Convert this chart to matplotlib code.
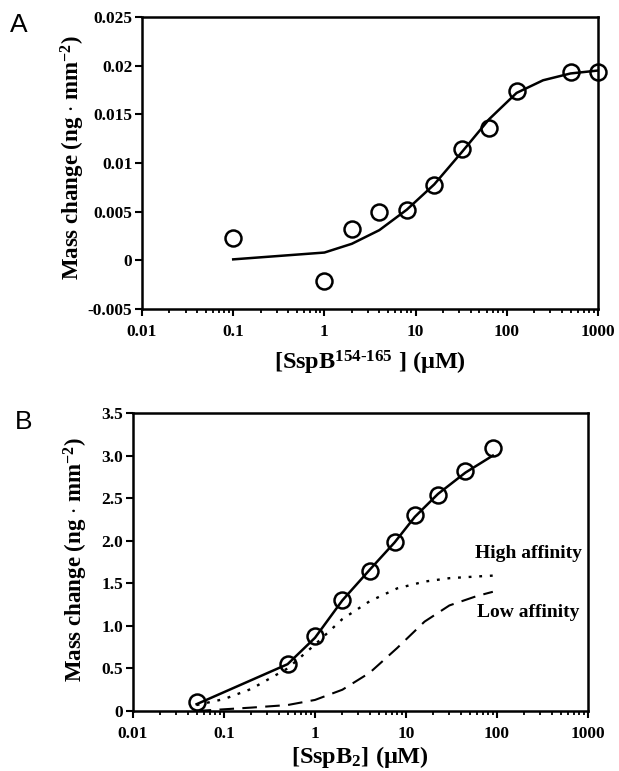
import numpy as np
import matplotlib
matplotlib.use("Agg")
import matplotlib.pyplot as plt
from matplotlib.ticker import LogLocator, NullFormatter

plt.rcParams["font.family"] = "Liberation Serif"
plt.rcParams["font.weight"] = "bold"
plt.rcParams["mathtext.fontset"] = "custom"
plt.rcParams["mathtext.rm"] = "Liberation Serif:bold"
plt.rcParams["mathtext.it"] = "Liberation Serif:bold"
plt.rcParams["mathtext.bf"] = "Liberation Serif:bold"

# panel A: peptide binding
conc_a = [0.1, 1, 2, 4, 8, 16, 32, 64, 128, 500, 1000]
mass_a = [0.0023, -0.0021, 0.0032, 0.0050, 0.0052, 0.0077, 0.0114, 0.0136, 0.0174, 0.0194, 0.0194]
fit_x_a = [0.1, 1, 2, 4, 8, 16, 32, 64, 128, 250, 500, 1000]
fit_y_a = [0.0001, 0.0008, 0.0017, 0.0031, 0.0052, 0.0078, 0.0111, 0.0145, 0.0172, 0.0185, 0.0192, 0.0195]

# panel B: SspB2 binding
conc_b = [0.05, 0.5, 1, 2, 4, 7.5, 12.5, 22.5, 45, 90]
mass_b = [0.10, 0.55, 0.88, 1.30, 1.65, 1.98, 2.30, 2.54, 2.82, 3.09]
fit_y_b = [0.08, 0.55, 0.86, 1.30, 1.66, 1.98, 2.28, 2.55, 2.80, 3.00]
curve_x = [0.05, 0.1, 0.2, 0.5, 1, 2, 4, 8, 16, 30, 60, 90]
high_aff = [0.07, 0.14, 0.26, 0.50, 0.78, 1.08, 1.29, 1.44, 1.52, 1.56, 1.58, 1.59]
low_aff = [0.00, 0.02, 0.04, 0.07, 0.13, 0.25, 0.45, 0.74, 1.05, 1.24, 1.35, 1.40]

xticks = [0.01, 0.1, 1, 10, 100, 1000]
xtick_labels = ["0.01", "0.1", "1", "10", "100", "1000"]
yticks_a = [-0.005, 0, 0.005, 0.01, 0.015, 0.02, 0.025]
ytick_labels_a = ["-0.005", "0", "0.005", "0.01", "0.015", "0.02", "0.025"]
yticks_b = [0, 0.5, 1.0, 1.5, 2.0, 2.5, 3.0, 3.5]
ytick_labels_b = ["0", "0.5", "1.0", "1.5", "2.0", "2.5", "3.0", "3.5"]

W, H = 619, 771
fig = plt.figure(figsize=(W / 100, H / 100), dpi=100)
# axes boxes in pixels (left, top, right, bottom)
axA = fig.add_axes([142 / W, 1 - 309 / H, (598 - 142) / W, (309 - 17) / H])
axB = fig.add_axes([133 / W, 1 - 711 / H, (588 - 133) / W, (711 - 413) / H])

TICK_FS = 12.5
LABEL_FS = 16.5


def style_axis(ax, yticks, ylabels):
    ax.set_xscale("log")
    ax.set_xlim(0.01, 1000)
    for s in ax.spines.values():
        s.set_linewidth(1.8)
    ax.xaxis.set_minor_locator(LogLocator(base=10, subs=np.arange(2, 10), numticks=10))
    ax.xaxis.set_minor_formatter(NullFormatter())
    ax.set_xticks(xticks)
    ax.set_xticklabels(xtick_labels, fontsize=TICK_FS, fontweight="bold")
    ax.set_yticks(yticks)
    ax.set_yticklabels(ylabels, fontsize=TICK_FS, fontweight="bold")
    ax.tick_params(axis="x", which="major", direction="out", length=5, width=1.5, pad=6)
    ax.tick_params(axis="y", which="major", direction="out", length=5, width=1.5, pad=2)
    ax.tick_params(which="minor", direction="out", length=3, width=1.3)


# ---- A ----
axA.plot(fit_x_a, fit_y_a, color="black", lw=1.8)
axA.plot(conc_a, mass_a, "o", ms=11.5, mfc="none", mec="black", mew=1.8, clip_on=False)
axA.set_ylim(-0.005, 0.025)
style_axis(axA, yticks_a, ytick_labels_a)

# ---- B ----
axB.plot(conc_b, fit_y_b, color="black", lw=1.8)
axB.plot(curve_x, high_aff, color="black", lw=1.7, linestyle=(0, (1.2, 3.3)))
axB.plot(curve_x, low_aff, color="black", lw=1.5, linestyle=(0, (7, 4)))
axB.plot(conc_b, mass_b, "o", ms=11.5, mfc="none", mec="black", mew=1.8, clip_on=False)
axB.set_ylim(0, 3.5)
style_axis(axB, yticks_b, ytick_labels_b)
axB.text(0.987, 0.527, "High affinity", transform=axB.transAxes, ha="right", va="center",
         fontsize=14, fontweight="bold")
axB.text(0.980, 0.332, "Low affinity", transform=axB.transAxes, ha="right", va="center",
         fontsize=14, fontweight="bold")

# axis titles placed by pixel centre
ylab = r"Mass change (ng $\cdot$ mm$^{-2}$)"
fig.text(73 / W, 1 - 158 / H, ylab, rotation=90, ha="center", va="center",
         fontsize=LABEL_FS, fontweight="bold")
fig.text(76 / W, 1 - 560 / H, ylab, rotation=90, ha="center", va="center",
         fontsize=LABEL_FS, fontweight="bold")
fig.text(370 / W, 1 - 363 / H, r"[SspB$^{154\text{-}165}$ ] ($\mu$M)", ha="center", va="center",
         fontsize=LABEL_FS + 1, fontweight="bold")
fig.text(360 / W, 1 - 757 / H, r"[SspB$_{2}$] ($\mu$M)", ha="center", va="center",
         fontsize=LABEL_FS + 1, fontweight="bold")

fig.text(10 / W, 1 - 13 / H, "A", fontsize=19, family="Liberation Sans", fontweight="normal", va="top")
fig.text(15 / W, 1 - 410 / H, "B", fontsize=19, family="Liberation Sans", fontweight="normal", va="top")

fig.savefig("out.png", dpi=100)
